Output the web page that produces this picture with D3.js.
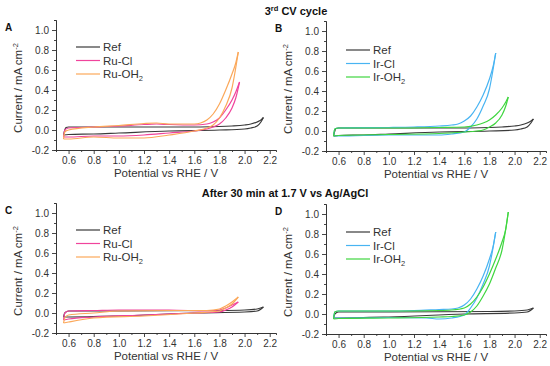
<!DOCTYPE html>
<html>
<head>
<meta charset="utf-8">
<script src="https://cdn.jsdelivr.net/npm/d3@7"></script>
<style>
  body { margin: 0; background: #fff; }
  svg { display: block; font-family: "Liberation Sans", Arial, sans-serif; }
</style>
</head>
<body>
<div id="chart"></div>
<script>
// CV loops: [potential V vs RHE, current mA cm-2], forward scan then reverse scan
const aRef = [[0.56,-0.05],[0.57,0.0],[0.58,0.025],[0.6,0.03],[1.0,0.03],[1.5,0.03],[1.8,0.035],[1.9,0.04],[2.0,0.05],[2.05,0.06],[2.1,0.08],[2.13,0.1],[2.15,0.125],
  [2.13,0.08],[2.1,0.04],[2.05,0.02],[2.0,0.01],[1.8,0.0],[1.4,-0.01],[1.0,-0.03],[0.8,-0.04],[0.6,-0.045],[0.56,-0.05]];
const aRuCl = [[0.56,-0.07],[0.57,0.0],[0.6,0.02],[0.8,0.03],[1.0,0.04],[1.2,0.055],[1.3,0.06],[1.4,0.055],[1.6,0.05],[1.7,0.06],[1.75,0.08],[1.8,0.12],[1.85,0.2],[1.9,0.3],[1.93,0.38],[1.96,0.48],
  [1.93,0.32],[1.9,0.22],[1.85,0.12],[1.8,0.06],[1.75,0.03],[1.7,0.01],[1.6,-0.01],[1.4,-0.03],[1.2,-0.05],[1.0,-0.06],[0.8,-0.06],[0.6,-0.07],[0.56,-0.07]];
const aRuOH2 = [[0.56,-0.09],[0.57,-0.02],[0.6,0.0],[0.8,0.03],[1.0,0.045],[1.2,0.065],[1.3,0.07],[1.4,0.06],[1.6,0.06],[1.65,0.07],[1.7,0.1],[1.75,0.16],[1.8,0.26],[1.85,0.4],[1.9,0.56],[1.93,0.67],[1.95,0.78],
  [1.92,0.55],[1.9,0.42],[1.85,0.24],[1.8,0.12],[1.75,0.05],[1.7,0.02],[1.6,-0.01],[1.4,-0.05],[1.2,-0.08],[1.0,-0.08],[0.8,-0.07],[0.6,-0.09],[0.56,-0.09]];

const bRef = [[0.56,-0.05],[0.57,0.0],[0.58,0.025],[0.6,0.03],[1.0,0.03],[1.5,0.03],[1.8,0.035],[1.9,0.04],[2.0,0.05],[2.05,0.06],[2.1,0.08],[2.13,0.1],[2.15,0.12],
  [2.13,0.08],[2.1,0.04],[2.05,0.02],[2.0,0.01],[1.8,0.0],[1.4,-0.01],[1.0,-0.03],[0.8,-0.04],[0.6,-0.045],[0.56,-0.05]];
const bIrCl = [[0.56,-0.05],[0.57,0.02],[0.6,0.03],[1.0,0.035],[1.2,0.04],[1.4,0.05],[1.5,0.06],[1.55,0.07],[1.6,0.1],[1.65,0.15],[1.7,0.24],[1.75,0.36],[1.8,0.52],[1.83,0.65],[1.85,0.78],
  [1.82,0.55],[1.8,0.42],[1.75,0.25],[1.7,0.12],[1.65,0.04],[1.6,-0.01],[1.5,-0.03],[1.4,-0.04],[1.2,-0.04],[1.0,-0.04],[0.6,-0.05],[0.56,-0.05]];
const bIrOH2 = [[0.56,-0.05],[0.57,0.02],[0.6,0.03],[1.0,0.03],[1.4,0.035],[1.6,0.04],[1.7,0.06],[1.75,0.08],[1.8,0.11],[1.85,0.16],[1.9,0.23],[1.93,0.29],[1.95,0.34],
  [1.93,0.25],[1.9,0.16],[1.85,0.08],[1.8,0.04],[1.75,0.01],[1.7,0.0],[1.6,-0.01],[1.4,-0.025],[1.0,-0.035],[0.6,-0.045],[0.56,-0.05]];

const cRef = [[0.56,-0.04],[0.57,0.0],[0.6,0.02],[1.0,0.02],[1.8,0.025],[2.0,0.03],[2.1,0.04],[2.15,0.06],
  [2.1,0.02],[2.0,0.01],[1.6,0.0],[1.0,-0.03],[0.6,-0.04],[0.56,-0.04]];
const cRuCl = [[0.56,-0.07],[0.57,0.0],[0.6,0.02],[0.8,0.025],[1.0,0.03],[1.4,0.03],[1.7,0.02],[1.8,0.03],[1.85,0.05],[1.9,0.08],[1.95,0.11],
  [1.9,0.06],[1.85,0.03],[1.8,0.01],[1.6,0.0],[1.2,-0.02],[0.8,-0.04],[0.6,-0.06],[0.56,-0.07]];
const cRuOH2 = [[0.56,-0.1],[0.57,-0.05],[0.6,-0.02],[0.8,0.0],[1.0,0.02],[1.4,0.025],[1.7,0.025],[1.8,0.04],[1.85,0.07],[1.9,0.11],[1.95,0.16],
  [1.9,0.09],[1.85,0.05],[1.8,0.02],[1.6,0.0],[1.2,-0.03],[0.8,-0.05],[0.6,-0.09],[0.56,-0.1]];

const dRef = [[0.56,-0.04],[0.57,0.0],[0.6,0.02],[1.0,0.02],[1.8,0.025],[2.0,0.03],[2.1,0.04],[2.15,0.06],
  [2.1,0.02],[2.0,0.01],[1.6,0.0],[1.0,-0.03],[0.6,-0.04],[0.56,-0.04]];
const dIrCl = [[0.56,-0.04],[0.57,0.02],[0.6,0.03],[1.0,0.03],[1.2,0.035],[1.4,0.045],[1.5,0.05],[1.55,0.06],[1.6,0.09],[1.65,0.15],[1.7,0.25],[1.75,0.38],[1.8,0.55],[1.83,0.68],[1.85,0.82],
  [1.82,0.6],[1.8,0.48],[1.75,0.3],[1.7,0.16],[1.65,0.06],[1.6,-0.01],[1.5,-0.04],[1.4,-0.05],[1.3,-0.04],[1.0,-0.035],[0.6,-0.04],[0.56,-0.04]];
const dIrOH2 = [[0.56,-0.05],[0.57,0.02],[0.6,0.03],[1.0,0.03],[1.4,0.035],[1.5,0.04],[1.6,0.06],[1.65,0.1],[1.7,0.17],[1.75,0.27],[1.8,0.4],[1.85,0.55],[1.9,0.72],[1.93,0.85],[1.95,1.02],
  [1.93,0.85],[1.9,0.64],[1.85,0.46],[1.8,0.3],[1.75,0.18],[1.7,0.08],[1.65,0.02],[1.6,-0.01],[1.5,-0.025],[1.4,-0.03],[1.0,-0.04],[0.6,-0.045],[0.56,-0.05]];

const xTicks = [0.6, 0.8, 1.0, 1.2, 1.4, 1.6, 1.8, 2.0, 2.2];
const yTicks = [-0.2, 0.0, 0.2, 0.4, 0.6, 0.8, 1.0];
const ruNames = ['Ref', 'Ru-Cl', 'Ru-OH2'];
const irNames = ['Ref', 'Ir-Cl', 'Ir-OH2'];
const ruColors = ['#3a3a3a', '#f0449c', '#fba85a'];
const irColors = ['#3a3a3a', '#48b4f2', '#3fd63f'];

const width = 550, height = 366;
const svg = d3.select('#chart').append('svg')
  .attr('width', width).attr('height', height);

function drawPanel(cfg) {
  const w = 220, h = 130;
  const g = svg.append('g').attr('transform', `translate(${cfg.x},${cfg.y})`);
  const x = d3.scaleLinear().domain([0.5, 2.25]).range([0, w]);
  const y = d3.scaleLinear().domain([-0.2, 1.1]).range([h, 0]);

  // minor ticks (every 0.1)
  const xMinor = d3.range(0.5, 2.25, 0.1).map(v => +v.toFixed(1)).filter(v => !xTicks.includes(v));
  const yMinor = d3.range(-0.1, 1.1, 0.2).map(v => +v.toFixed(1));
  g.append('g').attr('transform', `translate(0,${h})`)
    .call(d3.axisBottom(x).tickValues(xMinor).tickSize(2).tickFormat(''));
  g.append('g')
    .call(d3.axisLeft(y).tickValues(yMinor).tickSize(2).tickFormat(''));

  g.append('g').attr('transform', `translate(0,${h})`)
    .call(d3.axisBottom(x).tickValues(xTicks).tickSize(4).tickSizeOuter(0).tickPadding(3)
      .tickFormat(d => d.toFixed(1)));
  g.append('g')
    .call(d3.axisLeft(y).tickValues(yTicks).tickSize(4).tickSizeOuter(0).tickPadding(3)
      .tickFormat(d => d.toFixed(1)));
  g.selectAll('.domain, .tick line').attr('stroke', '#333').attr('stroke-width', 0.9);
  g.selectAll('.tick text').attr('fill', '#333').attr('font-size', 10)
    .attr('font-family', '"Liberation Sans", Arial, sans-serif');

  g.append('text')
    .attr('x', w / 2).attr('y', h + 27)
    .attr('text-anchor', 'middle').attr('font-size', 11.5).attr('fill', '#333')
    .text('Potential vs RHE / V');

  const yl = g.append('text')
    .attr('transform', `translate(-34,${h / 2 + 3}) rotate(-90)`)
    .attr('text-anchor', 'middle').attr('font-size', 11.5).attr('fill', '#333');
  yl.append('tspan').text('Current / mA cm');
  yl.append('tspan').attr('dy', -4).attr('font-size', 7.5).text('-2');

  const line = d3.line().x(d => x(d[0])).y(d => y(d[1])).curve(d3.curveMonotoneX);
  cfg.series.forEach((s, i) => {
    let k = 0;
    s.forEach((p, j) => { if (p[0] > s[k][0]) k = j; });
    const fwd = s.slice(0, k + 1);
    const rev = s.slice(k).reverse();
    [fwd, rev].forEach(part => {
      g.append('path').datum(part)
        .attr('d', line)
        .attr('fill', 'none')
        .attr('stroke', cfg.colors[i])
        .attr('stroke-width', 1.2)
        .attr('stroke-linejoin', 'round');
    });
  });

  // legend
  const lg = g.append('g').attr('transform', `translate(${cfg.lx},${cfg.ly})`);
  cfg.names.forEach((n, i) => {
    const row = lg.append('g').attr('transform', `translate(0,${i * 13.5})`);
    row.append('line').attr('x1', 0).attr('x2', 24).attr('y1', 0).attr('y2', 0)
      .attr('stroke', cfg.colors[i]).attr('stroke-width', 1.2);
    const t = row.append('text').attr('x', 27).attr('y', 4)
      .attr('font-size', 11.5).attr('fill', '#333');
    if (n.endsWith('OH2')) {
      t.append('tspan').text(n.slice(0, -1));
      t.append('tspan').attr('dy', 3).attr('font-size', 7.5).text('2');
    } else {
      t.text(n);
    }
  });

  svg.append('text')
    .attr('x', cfg.x - 51).attr('y', cfg.y + 11)
    .attr('font-size', 10).attr('font-weight', 'bold').attr('fill', '#111')
    .text(cfg.letter);
}

drawPanel({ x: 56, y: 20, letter: 'A', series: [aRef, aRuCl, aRuOH2], names: ruNames, colors: ruColors, lx: 20, ly: 27 });
drawPanel({ x: 326, y: 21, letter: 'B', series: [bRef, bIrCl, bIrOH2], names: irNames, colors: irColors, lx: 20, ly: 29 });
drawPanel({ x: 56, y: 203, letter: 'C', series: [cRef, cRuCl, cRuOH2], names: ruNames, colors: ruColors, lx: 20, ly: 27 });
drawPanel({ x: 326, y: 204, letter: 'D', series: [dRef, dIrCl, dIrOH2], names: irNames, colors: irColors, lx: 20, ly: 28 });

// section titles
const t1 = svg.append('text').attr('x', 296).attr('y', 15).attr('text-anchor', 'middle')
  .attr('font-size', 11).attr('font-weight', 'bold').attr('fill', '#111');
t1.append('tspan').text('3');
t1.append('tspan').attr('dy', -4).attr('font-size', 7.5).text('rd');
t1.append('tspan').attr('dy', 4).text(' CV cycle');

svg.append('text').attr('x', 285).attr('y', 197).attr('text-anchor', 'middle')
  .attr('font-size', 11).attr('font-weight', 'bold').attr('fill', '#111')
  .text('After 30 min at 1.7 V vs Ag/AgCl');
</script>
</body>
</html>
